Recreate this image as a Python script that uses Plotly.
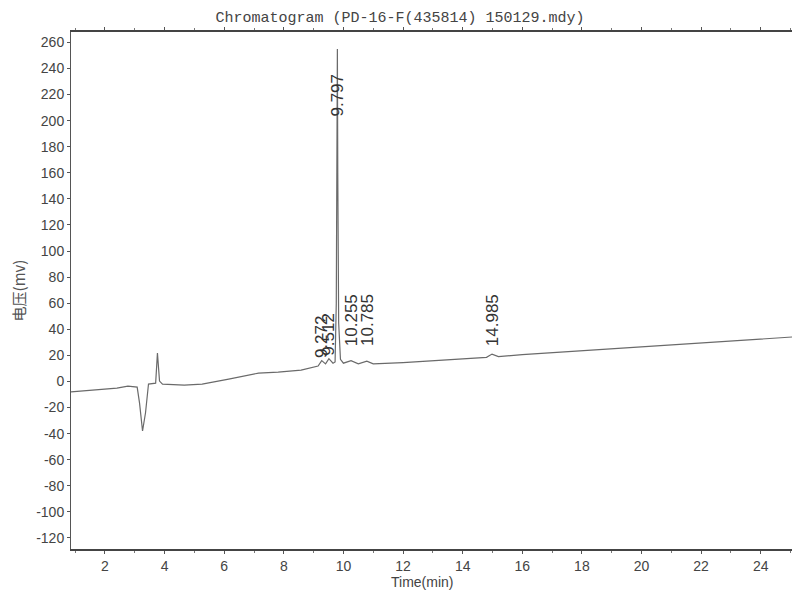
import plotly.graph_objects as go

# retention time (min) and signal (mV)
time_min = [0.86, 1.50, 2.40, 2.77, 3.08, 3.16, 3.26, 3.36, 3.46, 3.70, 3.76, 3.83, 3.93,
            4.66, 5.26, 6.15, 7.15, 7.81, 8.58, 9.15, 9.272, 9.40, 9.512, 9.65, 9.72,
            9.76, 9.785, 9.797, 9.81, 9.84, 9.90, 10.00, 10.255, 10.50, 10.785, 11.00,
            12.00, 13.00, 14.00, 14.80, 14.985, 15.20, 16.00, 17.00, 18.00, 19.00,
            20.00, 21.00, 22.00, 23.00, 24.00, 25.20]
signal_mv = [-8.0, -6.6, -5.1, -3.6, -4.3, -16.6, -38.0, -24.0, -2.0, -1.3, 21.7, 0.3, -2.0,
             -2.8, -2.0, 1.8, 6.4, 7.2, 8.7, 11.8, 16.0, 13.5, 17.5, 14.0, 15.0,
             60.0, 190.0, 255.0, 160.0, 45.0, 17.0, 14.0, 16.0, 13.5, 15.5, 13.5,
             14.5, 16.0, 17.5, 18.5, 21.0, 19.0, 20.5, 22.0, 23.5, 25.0,
             26.5, 28.0, 29.5, 31.0, 32.5, 34.3]

peak_times = [9.272, 9.512, 9.797, 10.255, 10.785, 14.985]
peak_labels = ["9.272", "9.512", "9.797", "10.255", "10.785", "14.985"]
label_base = [15, 17, 200, 24, 24, 24]

x_ticks = [2, 4, 6, 8, 10, 12, 14, 16, 18, 20, 22, 24]
y_ticks = list(range(-120, 261, 20))

fig = go.Figure()
fig.add_trace(go.Scatter(x=time_min, y=signal_mv, mode="lines",
                         line=dict(color="#6a6a6a", width=1.2), showlegend=False))

for t, lab, b in zip(peak_times, peak_labels, label_base):
    fig.add_annotation(x=t, y=b, text=lab, textangle=-90, showarrow=False,
                       xanchor="center", yanchor="bottom", yshift=2,
                       font=dict(family="Liberation Sans, Arial", size=17, color="#333333"))

fig.add_annotation(x=0.485, xref="paper", y=-0.045, yref="paper", text="Time(min)",
                   showarrow=False, xanchor="center", yanchor="top",
                   font=dict(family="Liberation Sans, Arial", size=14, color="#444444"))

fig.update_layout(
    width=800, height=600,
    margin=dict(l=57, r=13, t=24, b=59),
    paper_bgcolor="white", plot_bgcolor="white",
    title=dict(text="Chromatogram (PD-16-F(435814) 150129.mdy)", x=0.49, xanchor="center",
               y=0.985, yanchor="middle",
               font=dict(family="Liberation Mono, DejaVu Sans Mono", size=15, color="#444444")),
    xaxis=dict(range=[0.86, 25.15], tickvals=x_ticks, ticktext=[str(v) for v in x_ticks],
               showgrid=False, zeroline=False, showline=True, mirror="ticks",
               linecolor="#444444", linewidth=1.5, ticks="outside", ticklen=3,
               tickcolor="#555555",
               minor=dict(dtick=1, ticks="outside", ticklen=2, tickcolor="#777777"),
               tickfont=dict(family="Liberation Sans, Arial", size=14, color="#444444")),
    yaxis=dict(range=[-128.5, 268], tickvals=y_ticks, ticktext=[str(v) for v in y_ticks],
               showgrid=False, zeroline=False, showline=True, mirror=True,
               linecolor="#555555", linewidth=1, ticks="outside", ticklen=3,
               tickcolor="#555555",
               tickfont=dict(family="Liberation Sans, Arial", size=14, color="#444444"),
               title=dict(text="电压(mv)", standoff=6,
                          font=dict(family="Noto Sans CJK SC", size=15, color="#555555"))),
)

fig.write_html("out.html")
